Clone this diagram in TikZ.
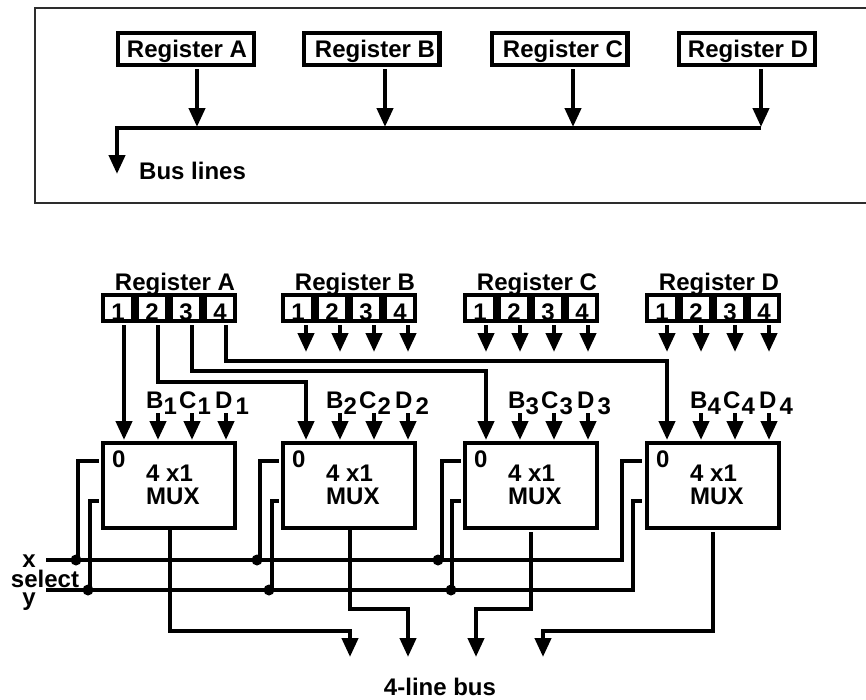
\documentclass[tikz,border=0pt]{standalone}
\usepackage{fontspec}
\setmainfont{Liberation Sans}
\usepackage{xcolor}
\usepackage{tikz}
\usetikzlibrary{arrows.meta}
\definecolor{inkBlack}{RGB}{0,0,0}
\definecolor{frameGray}{RGB}{45,45,45}
\newcommand{\labelfont}{\fontsize{24}{24}\selectfont\bfseries}
\tikzset{
  frameLine/.style={draw=frameGray, line width=1.3pt},
  topReg/.style={
    rectangle, draw=inkBlack, line width=4.4pt, minimum width=135.6pt, minimum height=31.6pt,
    inner sep=0pt, text height=17pt, text depth=0pt, font=\labelfont
  },
  regCell/.style={
    rectangle, draw=inkBlack, line width=4.4pt, minimum width=29.6pt, minimum height=25.6pt,
    inner sep=0pt, text height=25.6pt, text depth=0pt, font=\fontsize{24}{24}\selectfont\bfseries
  },
  muxBox/.style={
    rectangle, draw=inkBlack, line width=4.4pt, minimum width=131.6pt, minimum height=84.6pt, inner sep=0pt
  },
  textLabel/.style={inner sep=0pt, anchor=base west, font=\labelfont},
  junction/.style={circle, fill=inkBlack, inner sep=0pt, minimum size=11pt},
  wireLine/.style={draw=inkBlack, line width=4.2pt},
  busArrow/.style={wireLine, -{Triangle[length=19pt,width=16pt]}}
}
\begin{document}
\begin{tikzpicture}[x=1pt,y=-1pt]
        \useasboundingbox (0,0) rectangle (866,699);
        \draw[frameLine] (866,8) -- (35,8) -- (35,203) -- (866,203);

        \node[topReg] (topA) at (186,49) {\kern2pt Register A};
        \node[topReg] (topB) at (371.5,49) {\kern7pt Register B};
        \node[topReg] (topC) at (559.5,49) {\kern7pt Register C};
        \node[topReg] (topD) at (747,49) {\kern2pt Register D};
        \coordinate (busRight) at (761,128);
        \coordinate (busLeft) at (117,128);
        \coordinate (busDown) at (117,174);
        \foreach \reg/\off in {A/11,B/13.5,C/13.5,D/14} {
          \coordinate (tap\reg) at ([shift={(\off pt,-60pt)}]top\reg.south);
          \draw[busArrow] ([shift={(\off pt,-2pt)}]top\reg.south) -- (tap\reg);
        }
        \draw[wireLine] (busRight) -- (busLeft) -- ([yshift=-10pt]busLeft);
        \draw[busArrow] (busLeft) -- (busDown);
        \node[textLabel] (busLabel) at (139,179) {Bus lines};

        \foreach \reg/\m/\base/\inx/\off in {A/1/101/124/6,B/2/281/306/8,C/3/463/486/6,D/4/645/667/5} {
          \node[textLabel,anchor=base] (title\reg) at (\base+74,290) {Register \reg};
          \foreach \c in {1,2,3,4} {
            \node[regCell] (reg\reg\c) at (\base+34*\c-17,308) {\c};
          }
          \node[muxBox] (mux\m) at (\base+68,485.5) {};
          \node[textLabel] (zero\m) at (\base+11,467) {0};
          \node[textLabel] (muxsize\m) at (\base+45,481) {4 x1};
          \node[textLabel] (muxname\m) at (\base+45,504) {MUX};
          \node[textLabel] (labB\m) at (\base+45,408) {B\raisebox{-6pt}{\m}};
          \node[textLabel] (labC\m) at (\base+78,408) {C\kern1pt\raisebox{-6pt}{\m}};
          \node[textLabel] (labD\m) at (\base+114,408) {D\kern3pt\raisebox{-6pt}{\m}};
          \coordinate (pin\m O) at (\inx,440);
          \foreach \p/\dx in {B/34,C/68,D/102} {
            \coordinate (top\m\p) at (\inx+\dx,413);
            \coordinate (pin\m\p) at (\inx+\dx,440);
            \draw[busArrow] (top\m\p) -- (pin\m\p);
          }
        }
        \foreach \reg/\off in {B/8,C/6,D/5} {
          \foreach \c in {1,2,3,4} {
            \draw[busArrow] ([shift={(\off pt,-2pt)}]reg\reg\c.south) -- ++(0,27);
          }
        }

        \coordinate (bendB) at (306,382);
        \coordinate (bendC) at (486,371);
        \coordinate (bendD) at (667,361);
        \draw[busArrow] ([shift={(6pt,-2pt)}]regA1.south) -- (pin1O);
        \draw[busArrow] ([shift={(6pt,-2pt)}]regA2.south) |- (bendB) -- (pin2O);
        \draw[busArrow] ([shift={(6pt,-2pt)}]regA3.south) |- (bendC) -- (pin3O);
        \draw[busArrow] ([shift={(6pt,-2pt)}]regA4.south) |- (bendD) -- (pin4O);

        \coordinate (xStart) at (46,560);
        \coordinate (yStart) at (46,590);
        \coordinate (xBend) at (622,461);
        \coordinate (yBend) at (633,501);
        \coordinate (xStub) at (642,461);
        \coordinate (yStub) at (642,501);
        \draw[wireLine] (xStart) -| (xBend) -- (xStub);
        \draw[wireLine] (yStart) -| (yBend) -- (yStub);
        \foreach \m/\xdot/\xv/\ydot/\yv/\stub in {1/76/78/88/90/99,2/257/260/269/272/279,3/438/442/451/452/461} {
          \node[junction] (xdot\m) at (\xdot,560) {};
          \node[junction] (ydot\m) at (\ydot,590) {};
          \coordinate (xrise\m) at (\xv,560);
          \coordinate (yrise\m) at (\yv,590);
          \coordinate (xstub\m) at (\stub,461);
          \coordinate (ystub\m) at (\stub,501);
          \draw[wireLine] (xrise\m) |- (xstub\m);
          \draw[wireLine] (yrise\m) |- (ystub\m);
        }
        \node[textLabel,anchor=base] (xLabel) at (29,567) {x};
        \node[textLabel,anchor=base] (selectLabel) at (45,587) {select};
        \node[textLabel,anchor=base] (yLabel) at (29,605) {y};

        \coordinate (lineA) at (350,631);
        \coordinate (lineB) at (408,609);
        \coordinate (lineC) at (476,609);
        \coordinate (lineD) at (543,631);
        \coordinate (tipA) at (350,657);
        \coordinate (tipB) at (408,657);
        \coordinate (tipC) at (476,657);
        \coordinate (tipD) at (543,657);
        \draw[busArrow] ([xshift=1pt]mux1.south) |- (lineA) -- (tipA);
        \draw[busArrow] ([xshift=1pt]mux2.south) |- (lineB) -- (tipB);
        \draw[busArrow] ([shift={(0pt,-2pt)}]mux3.south) |- (lineC) -- (tipC);
        \draw[busArrow] ([shift={(0pt,-2pt)}]mux4.south) |- (lineD) -- (tipD);
        \node[textLabel,anchor=base] (busName) at (440,695) {4-line bus};
\end{tikzpicture}
\end{document}
